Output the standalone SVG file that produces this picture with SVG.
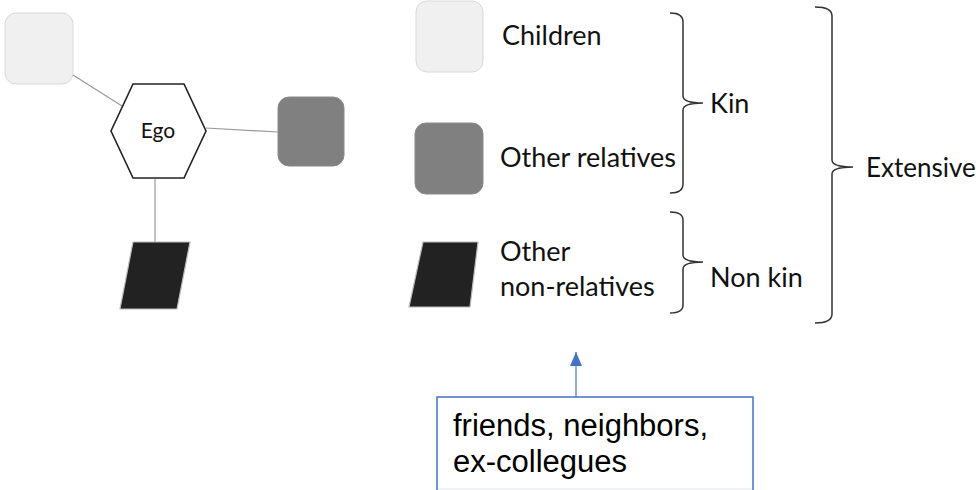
<svg xmlns="http://www.w3.org/2000/svg" width="978" height="490" viewBox="0 0 978 490">
  <style>
    .lbl { font-family: Lato, "Open Sans", sans-serif; font-size: 27px; fill: #111; }
    .light { fill: #f0f0f0; stroke: #d8d8d8; stroke-width: 1; }
    .mid { fill: #808080; stroke: #8a8a8a; stroke-width: 1; }
    .dark { fill: #222; stroke: #bbb; stroke-width: 1.2; }
    .link { stroke: #999; stroke-width: 1.2; fill: none; }
    .brace { stroke: #333; stroke-width: 1.5; fill: none; }
    .note { font-family: "Liberation Sans", Arial, sans-serif; font-size: 31px; fill: #000; }
  </style>
  <defs>
    <marker id="head" viewBox="0 0 14 12" refX="14" refY="6" markerWidth="14" markerHeight="12" markerUnits="userSpaceOnUse" orient="auto">
      <path d="M0,0 L14,6 L0,12 Z" fill="#4472c4"/>
    </marker>
  </defs>

  <!-- ego network links -->
  <g id="connectors">
    <line class="link" x1="73" y1="75" x2="122" y2="106"/>
    <line class="link" x1="206" y1="128" x2="278" y2="132"/>
    <line class="link" x1="155" y1="179" x2="155" y2="242"/>
    <line x1="576" y1="397" x2="576" y2="352" stroke="#6f8fd3" stroke-width="1.5" marker-end="url(#head)"/>
  </g>

  <g id="ego">
    <polygon points="133,84 184,84 206,131 184,178 133,178 111,131" fill="#fff" stroke="#222" stroke-width="1.6"/>
    <text class="lbl" x="158" y="138" style="font-size:21px" text-anchor="middle">Ego</text>
  </g>
  <g id="child-node">
    <rect class="light" x="5" y="13" width="68" height="71" rx="11"/>
  </g>
  <g id="relative-node">
    <rect class="mid" x="278" y="97" width="66" height="69" rx="11"/>
  </g>
  <g id="nonrelative-node">
    <polygon class="dark" points="133,242 190,242 177,309 120,309"/>
  </g>

  <!-- legend -->
  <g id="legend-children">
    <rect class="light" x="416" y="1" width="67" height="71" rx="11"/>
    <text class="lbl" x="502" y="45">Children</text>
  </g>
  <g id="legend-relatives">
    <rect class="mid" x="415" y="123" width="68" height="71" rx="11"/>
    <text class="lbl" x="500" y="167">Other relatives</text>
  </g>
  <g id="legend-nonrelatives">
    <polygon class="dark" points="423,242 478,242 470,307 409,307"/>
    <text class="lbl" x="500" y="261">Other</text>
    <text class="lbl" x="500" y="296">non-relatives</text>
  </g>

  <g id="brace-kin">
    <path class="brace" d="M670,13 Q683,13 683,22 L683,96 Q683,103 703,103 Q683,103 683,110 L683,184 Q683,193 670,193"/>
    <text class="lbl" x="710" y="113">Kin</text>
  </g>
  <g id="brace-nonkin">
    <path class="brace" d="M670,212 Q683,212 683,220 L683,255 Q683,262 703,262 Q683,262 683,269 L683,305 Q683,313 670,313"/>
    <text class="lbl" x="710" y="287">Non kin</text>
  </g>
  <g id="brace-extensive">
    <path class="brace" d="M815,7 Q832,7 832,16 L832,160 Q832,167 853,167 Q832,167 832,174 L832,314 Q832,323 815,323"/>
    <text class="lbl" x="866" y="177" style="font-size:26px">Extensive</text>
  </g>

  <g id="note">
    <rect x="437" y="397" width="316" height="100" fill="#fff" stroke="#4472c4" stroke-width="1.5"/>
    <line x1="438" y1="489" x2="752" y2="489" stroke="#e2e6ee" stroke-width="1"/>
    <text class="note" x="453" y="436">friends, neighbors,</text>
    <text class="note" x="453" y="472">ex-collegues</text>
  </g>
</svg>
